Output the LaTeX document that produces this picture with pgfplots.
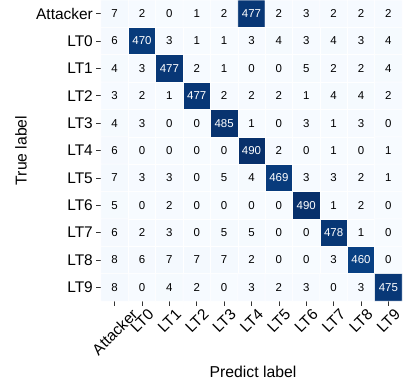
\documentclass[border=0pt]{standalone}
\usepackage{pgfplots}
\pgfplotsset{compat=1.18}
\usepackage{graphicx}
\usepackage{fontspec}
\setmainfont{Liberation Sans}
\usetikzlibrary{calc}
\pgfplotstableread{
x y c
0 0 7
1 0 2
2 0 0
3 0 1
4 0 2
5 0 477
6 0 2
7 0 3
8 0 2
9 0 2
10 0 2
0 1 6
1 1 470
2 1 3
3 1 1
4 1 1
5 1 3
6 1 4
7 1 3
8 1 4
9 1 3
10 1 4
0 2 4
1 2 3
2 2 477
3 2 2
4 2 1
5 2 0
6 2 0
7 2 5
8 2 2
9 2 2
10 2 4
0 3 3
1 3 2
2 3 1
3 3 477
4 3 2
5 3 2
6 3 2
7 3 1
8 3 4
9 3 4
10 3 2
0 4 4
1 4 3
2 4 0
3 4 0
4 4 485
5 4 1
6 4 0
7 4 3
8 4 1
9 4 3
10 4 0
0 5 6
1 5 0
2 5 0
3 5 0
4 5 0
5 5 490
6 5 2
7 5 0
8 5 1
9 5 0
10 5 1
0 6 7
1 6 3
2 6 3
3 6 0
4 6 5
5 6 4
6 6 469
7 6 3
8 6 3
9 6 2
10 6 1
0 7 5
1 7 0
2 7 2
3 7 0
4 7 0
5 7 0
6 7 0
7 7 490
8 7 1
9 7 2
10 7 0
0 8 6
1 8 2
2 8 3
3 8 0
4 8 5
5 8 5
6 8 0
7 8 0
8 8 478
9 8 1
10 8 0
0 9 8
1 9 6
2 9 7
3 9 7
4 9 7
5 9 2
6 9 0
7 9 0
8 9 3
9 9 460
10 9 0
0 10 8
1 10 0
2 10 4
3 10 2
4 10 0
5 10 3
6 10 2
7 10 3
8 10 0
9 10 3
10 10 475
}\cm
\newcommand\cellnum{\pgfmathfloattoint{\pgfplotspointmeta}\edef\cv{\pgfmathresult}\ifnum\cv>245\relax\color{white}\fi\cv}
\newcommand\rl[1]{\rotatebox{45}{#1}}
\begin{document}
\begin{tikzpicture}
\begin{axis}[
  name=ax,
  scale only axis,
  width=301bp, height=301bp,
  xmin=-0.5, xmax=10.5, ymin=-0.5, ymax=10.5,
  y dir=reverse,
  enlargelimits=false,
  axis line style={draw=none},
  xtick={0,...,10}, ytick={0,...,10},
  xticklabels={\rl{Attacker},\rl{LT0},\rl{LT1},\rl{LT2},\rl{LT3},\rl{LT4},\rl{LT5},\rl{LT6},\rl{LT7},\rl{LT8},\rl{LT9}},
  yticklabels={Attacker,LT0,LT1,LT2,LT3,LT4,LT5,LT6,LT7,LT8,LT9},
  xtick pos=bottom, ytick pos=left,
  tick align=outside,
  major tick length=4.5bp,
  tick style={draw=black!80, line width=0.6pt},
  ticklabel style={font=\fontsize{15.5}{18}\selectfont},
  xticklabel style={anchor=north, inner sep=2.5pt},
  yticklabel style={inner sep=3.5pt},
  xlabel={Predict label},
  ylabel={True label},
  label style={font=\fontsize{15.8}{18}\selectfont},
  xlabel style={at={(axis description cs:0.505,-0.236)}, anchor=center},
  ylabel style={at={(axis description cs:-0.266,0.5)}, anchor=center},
  colormap={blues}{rgb255=(247,251,255) rgb255=(222,235,247) rgb255=(198,219,239) rgb255=(158,202,225) rgb255=(107,174,214) rgb255=(66,146,198) rgb255=(33,113,181) rgb255=(8,81,156) rgb255=(8,48,107)},
  point meta min=0, point meta max=490,
]
\addplot[matrix plot*, mesh/cols=11, point meta=explicit, draw=white, line width=0.5pt] table[x=x, y=y, meta=c] {\cm};
\addplot[draw=none, mark=none, point meta=explicit,
  nodes near coords={\cellnum},
  every node near coord/.append style={anchor=center, font=\fontsize{11.5}{13}\selectfont, inner sep=0pt}
] table[x=x, y=y, meta=c] {\cm};
\end{axis}
\pgfresetboundingbox
\path[use as bounding box] ($(ax.south west)+(-101bp,-86bp)$) rectangle ($(ax.north east)+(7bp,0bp)$);
\end{tikzpicture}
\end{document}
